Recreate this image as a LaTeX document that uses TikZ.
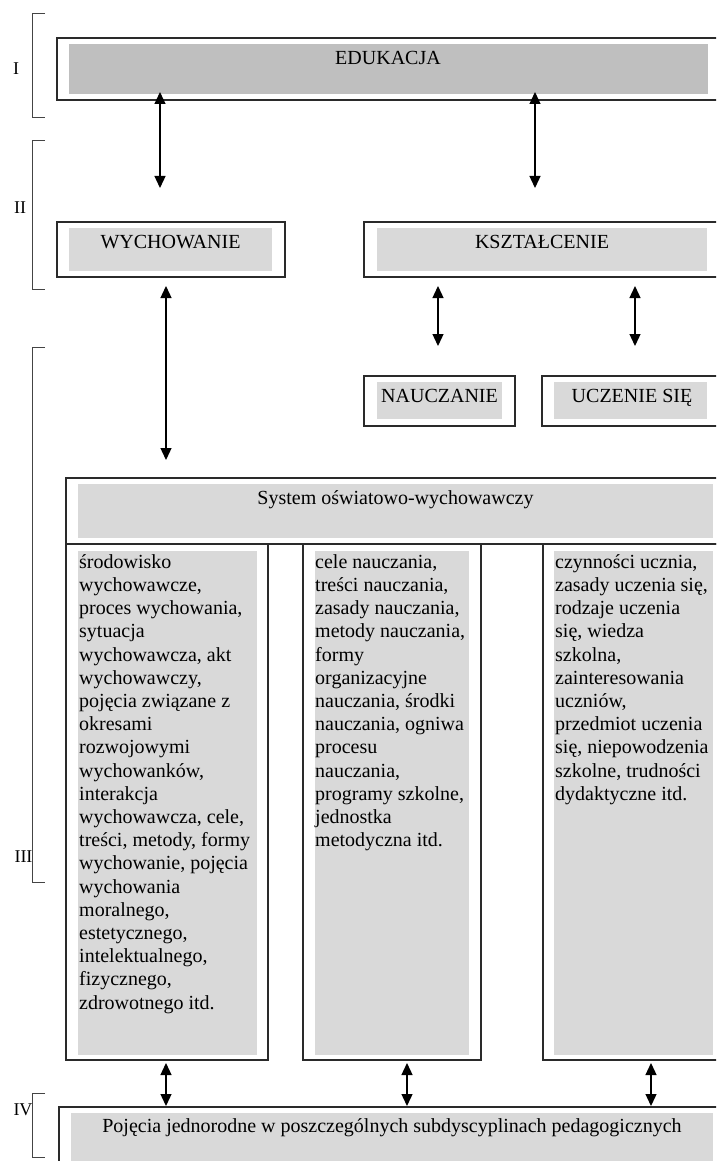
\documentclass[tikz,border=0pt]{standalone}
\usepackage{fontspec}
\setmainfont{Liberation Serif}
\usetikzlibrary{arrows.meta}
\definecolor{grayA}{HTML}{BFBFBF}
\definecolor{grayB}{HTML}{D9D9D9}
\definecolor{lineC}{HTML}{2A2A2A}
\definecolor{brkC}{HTML}{444444}
\newcommand\bodyfont{\fontsize{20pt}{23.2pt}\selectfont}
\newcommand\lblfont{\fontsize{18pt}{20pt}\selectfont}
\begin{document}
\begin{tikzpicture}[x=1pt,y=-1pt,
  outerbox/.style n args={2}{draw=lineC, line width=1.3pt, inner sep=0pt, outer sep=0pt,
     anchor=north west, minimum width=#1, minimum height=#2},
  innerbox/.style n args={3}{fill=#1, inner sep=0pt, outer sep=0pt,
     anchor=north west, minimum width=#2, minimum height=#3},
  head/.style={font=\bodyfont, anchor=base, inner sep=0pt},
  coltext/.style={font=\bodyfont, anchor=north west, align=left, inner sep=0pt},
  lvl/.style={font=\lblfont, inner sep=0pt},
  brk/.style={draw=brkC, line width=1pt},
  dbl/.style={{Triangle[width=11pt,length=12pt]}-{Triangle[width=11pt,length=12pt]}, line width=1.3pt, draw=black}
]
\clip (0,0) rectangle (716,1161);

% level brackets
\draw[brk] (45,14) -- (32,14) -- (32,118) -- (45,118);
\draw[brk] (45,141) -- (32,141) -- (32,289) -- (45,289);
\draw[brk] (45,347) -- (32,347) -- (32,882) -- (45,882);
\draw[brk] (45,1093) -- (32,1093) -- (32,1157) -- (45,1157);
\node[lvl] (lI) at (16,69) {I};
\node[lvl] (lII) at (20,208) {II};
\node[lvl] (lIII) at (23.5,857) {III};
\node[lvl] (lIV) at (23,1110) {IV};

% EDUKACJA
\node[outerbox={663pt}{62pt}] (edu) at (57,38) {};
\node[innerbox={grayA}{639pt}{50pt}] (eduin) at (69,44) {};
\node[head] (edut) at (388,65) {EDUKACJA};

% WYCHOWANIE
\node[outerbox={228pt}{55pt}] (wych) at (57,222) {};
\node[innerbox={grayB}{203pt}{43pt}] (wychin) at (69,228) {};
\node[head] (wycht) at (170.5,248.5) {WYCHOWANIE};

% KSZTALCENIE
\node[outerbox={356pt}{55pt}] (kszt) at (364,222) {};
\node[innerbox={grayB}{330pt}{43pt}] (ksztin) at (377,228) {};
\node[head] (ksztt) at (542,248.5) {KSZTAŁCENIE};

% NAUCZANIE
\node[outerbox={151pt}{50pt}] (nauc) at (364,376) {};
\node[innerbox={grayB}{125pt}{37pt}] (naucin) at (377,382) {};
\node[head] (nauct) at (439.5,402) {NAUCZANIE};

% UCZENIE SIE
\node[outerbox={178pt}{50pt}] (ucz) at (542,376) {};
\node[innerbox={grayB}{153pt}{37pt}] (uczin) at (554,382) {};
\node[head] (uczt) at (632,402) {UCZENIE SIĘ};

% System
\node[outerbox={654pt}{66pt}] (sys) at (66,478) {};
\node[innerbox={grayB}{635pt}{54pt}] (sysin) at (78,484) {};
\node[head] (syst) at (395.5,504.5) {System oświatowo-wychowawczy};

% columns
\node[outerbox={202pt}{516pt}] (c1) at (66,544) {};
\node[innerbox={grayB}{179pt}{504pt}] (c1in) at (78,551) {};
\node[outerbox={178pt}{516pt}] (c2) at (303,544) {};
\node[innerbox={grayB}{154pt}{504pt}] (c2in) at (315,551) {};
\node[outerbox={177pt}{516pt}] (c3) at (543,544) {};
\node[innerbox={grayB}{159pt}{504pt}] (c3in) at (554,551) {};

\node[coltext] (c1t) at (79,551.8) {\strut środowisko\\wychowawcze,\\proces wychowania,\\sytuacja\\wychowawcza, akt\\wychowawczy,\\pojęcia związane z\\okresami\\rozwojowymi\\wychowanków,\\interakcja\\wychowawcza, cele,\\treści, metody, formy\\wychowanie, pojęcia\\wychowania\\moralnego,\\estetycznego,\\intelektualnego,\\fizycznego,\\zdrowotnego itd.};
\node[coltext] (c2t) at (315,551.8) {\strut cele nauczania,\\treści nauczania,\\zasady nauczania,\\metody nauczania,\\formy\\organizacyjne\\nauczania, środki\\nauczania, ogniwa\\procesu\\nauczania,\\programy szkolne,\\jednostka\\metodyczna itd.};
\node[coltext] (c3t) at (555,551.8) {\strut czynności ucznia,\\zasady uczenia się,\\rodzaje uczenia\\się, wiedza\\szkolna,\\zainteresowania\\uczniów,\\przedmiot uczenia\\się, niepowodzenia\\szkolne, trudności\\dydaktyczne itd.};

% bottom box
\node[outerbox={661pt}{70pt}] (poj) at (59,1107) {};
\node[innerbox={grayB}{642pt}{60pt}] (pojin) at (71,1113) {};
\node[head] (pojt) at (392,1132) {Pojęcia jednorodne w poszczególnych subdyscyplinach pedagogicznych};

% arrow end points
\coordinate (a1s) at (160,92);  \coordinate (a1e) at (160,188);
\coordinate (a2s) at (535,92);  \coordinate (a2e) at (535,188);
\coordinate (a3s) at (166,286); \coordinate (a3e) at (166,460);
\coordinate (a4s) at (438,286); \coordinate (a4e) at (438,346);
\coordinate (a5s) at (635,286); \coordinate (a5e) at (635,346);
\coordinate (a6s) at (166,1063); \coordinate (a6e) at (166,1106);
\coordinate (a7s) at (407,1063); \coordinate (a7e) at (407,1106);
\coordinate (a8s) at (651,1063); \coordinate (a8e) at (651,1106);

\draw[dbl] (a1s) -- (a1e);
\draw[dbl] (a2s) -- (a2e);
\draw[dbl] (a3s) -- (a3e);
\draw[dbl] (a4s) -- (a4e);
\draw[dbl] (a5s) -- (a5e);
\draw[dbl] (a6s) -- (a6e);
\draw[dbl] (a7s) -- (a7e);
\draw[dbl] (a8s) -- (a8e);
\end{tikzpicture}
\end{document}
